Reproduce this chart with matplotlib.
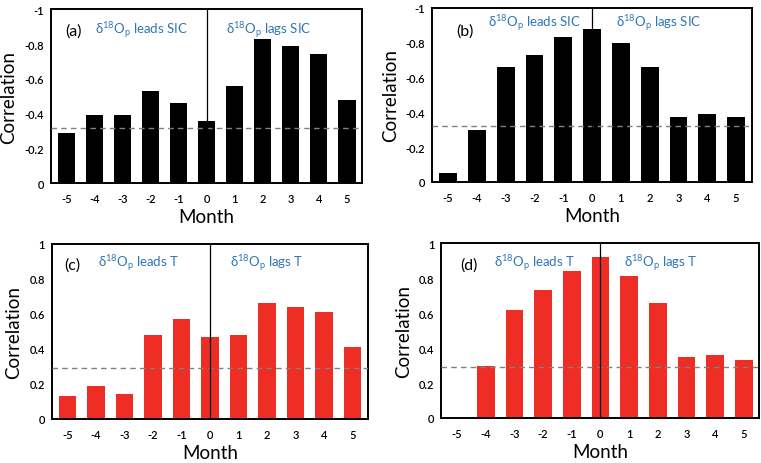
import matplotlib
matplotlib.use("Agg")
import matplotlib.pyplot as plt
from matplotlib.ticker import FuncFormatter

plt.rcParams['font.family'] = ['Lato', 'DejaVu Sans']
plt.rcParams['mathtext.fontset'] = 'custom'
plt.rcParams['mathtext.rm'] = 'Lato'
plt.rcParams['mathtext.it'] = 'Lato'
plt.rcParams['axes.unicode_minus'] = False

months = [-5, -4, -3, -2, -1, 0, 1, 2, 3, 4, 5]

# correlation of d18Op with sea ice concentration (negative)
sic_a = [-0.29, -0.39, -0.39, -0.53, -0.46, -0.36, -0.56, -0.83, -0.79, -0.74, -0.48]
sic_b = [-0.05, -0.30, -0.66, -0.73, -0.83, -0.88, -0.80, -0.66, -0.37, -0.39, -0.37]
# correlation of d18Op with temperature
temp_c = [0.13, 0.19, 0.14, 0.48, 0.57, 0.47, 0.48, 0.66, 0.64, 0.61, 0.41]
temp_d = [0.0, 0.30, 0.62, 0.73, 0.84, 0.92, 0.81, 0.66, 0.35, 0.36, 0.33]

sig_sic = -0.32
sig_temp = 0.29

BLUE = '#2e75b6'
RED = '#ee2d24'

fig = plt.figure(figsize=(7.61, 4.64), dpi=100)

panels = [
    # (rect, values, colour, signif, label, lead text, lag text, positions)
    ([0.067, 0.603, 0.409, 0.375], sic_a, 'black', sig_sic, '(a)', 'SIC',
     (0.045, 0.875), (0.29, 0.885), (0.70, 0.885)),
    ([0.568, 0.606, 0.420, 0.375], sic_b, 'black', sig_sic, '(b)', 'SIC',
     (0.075, 0.868), (0.32, 0.913), (0.71, 0.913)),
    ([0.068, 0.095, 0.416, 0.377], temp_c, RED, sig_temp, '(c)', 'T',
     (0.041, 0.885), (0.275, 0.895), (0.68, 0.895)),
    ([0.580, 0.097, 0.418, 0.377], temp_d, RED, sig_temp, '(d)', 'T',
     (0.06, 0.878), (0.294, 0.89), (0.69, 0.89)),
]

for rect, vals, col, sig, lab, var, plab, plead, plag in panels:
    ax = fig.add_axes(rect)
    ax.bar(months, vals, width=0.62, color=col, zorder=2)
    ax.set_xlim(-5.55, 5.55)
    if sig < 0:
        ax.set_ylim(0, -1)
        ax.set_yticks([0, -0.2, -0.4, -0.6, -0.8, -1])
    else:
        ax.set_ylim(0, 1)
        ax.set_yticks([0, 0.2, 0.4, 0.6, 0.8, 1])
    ax.yaxis.set_major_formatter(FuncFormatter(lambda v, p: '%g' % v))
    ax.set_xticks(months)
    ax.set_xticklabels([str(m) for m in months])
    ax.tick_params(length=0, labelsize=8)
    ax.tick_params(axis='y', pad=5)
    ax.tick_params(axis='x', pad=7)
    for t in ax.get_xticklabels() + ax.get_yticklabels():
        t.set_fontweight('semibold')
    for s in ax.spines.values():
        s.set_linewidth(1.4)
    ax.axhline(sig, color='#808080', lw=1.0, ls=(0, (4, 3)), zorder=3)
    ax.axvline(0, color='black', lw=0.9, zorder=3)
    ax.set_ylabel('Correlation', fontsize=13.5, labelpad=5)
    ax.set_xlabel('Month', fontsize=13.5, labelpad=3)
    ax.text(plab[0], plab[1], lab, transform=ax.transAxes, fontsize=11.5,
            ha='left', va='center')
    ax.text(plead[0], plead[1], r'δ$^{18}$O$_\mathrm{p}$ leads ' + var,
            transform=ax.transAxes, fontsize=9.5, color=BLUE,
            ha='center', va='center')
    ax.text(plag[0], plag[1], r'δ$^{18}$O$_\mathrm{p}$ lags ' + var,
            transform=ax.transAxes, fontsize=9.5, color=BLUE,
            ha='center', va='center')

fig.savefig('out.png', dpi=100)
